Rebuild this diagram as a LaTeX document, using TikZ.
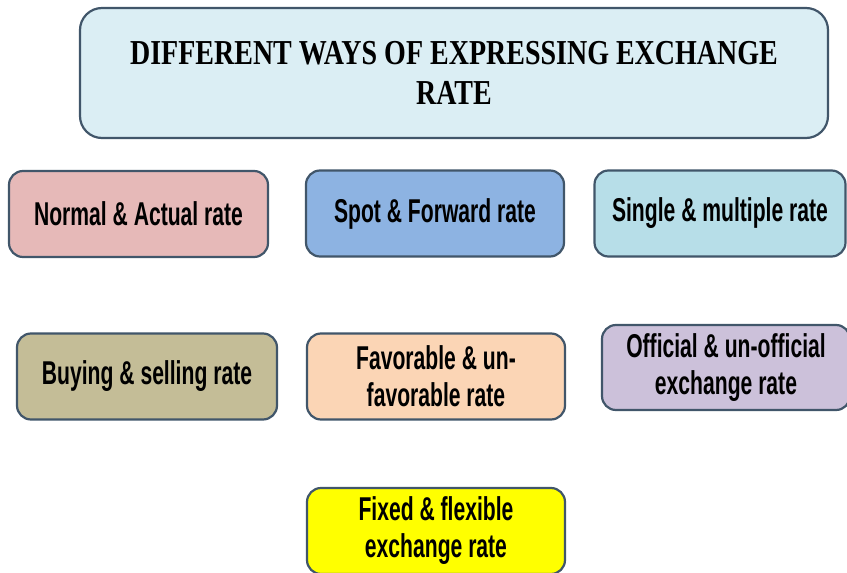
\documentclass[tikz,border=0pt]{standalone}
\usepackage{fontspec}
\setmainfont{Liberation Sans}
\newfontfamily\boxfont[FakeStretch=0.64]{Liberation Sans}
\newfontfamily\titlefont[FakeStretch=0.8]{Liberation Serif}
\usetikzlibrary{positioning}

\definecolor{edgeblue}{HTML}{41566A}
\definecolor{titlefill}{HTML}{DBEEF4}
\definecolor{normalfill}{HTML}{E6B9B8}
\definecolor{spotfill}{HTML}{8DB3E2}
\definecolor{singlefill}{HTML}{B7DEE8}
\definecolor{buyfill}{HTML}{C4BD97}
\definecolor{favfill}{HTML}{FBD5B5}
\definecolor{officialfill}{HTML}{CCC1DA}
\definecolor{fixedfill}{HTML}{FFFF00}

\tikzset{
  ratebox/.style={draw=edgeblue, line width=2.2pt, rounded corners=14pt,
    minimum width=258pt, minimum height=86pt, align=center,
    font=\boxfont\bfseries\fontsize{33}{37}\selectfont, inner sep=0pt},
  titlebox/.style={draw=edgeblue, line width=2.2pt, rounded corners=22pt,
    minimum width=748pt, minimum height=130pt, align=center, fill=titlefill,
    font=\titlefont\bfseries\fontsize{35}{40}\selectfont, inner sep=0pt}
}

\begin{document}
\begin{tikzpicture}[x=1pt, y=1pt]
\useasboundingbox (0,0) rectangle (847,-573);

\node[titlebox] (title) at (454,-73) {DIFFERENT WAYS OF EXPRESSING EXCHANGE\\RATE};

\node[ratebox, fill=normalfill, minimum width=259pt] (normal) at (138.5,-214) {Normal \& Actual rate};
\node[ratebox, fill=spotfill] (spot) at (435,-213.5) {Spot \& Forward rate};
\node[ratebox, fill=singlefill, minimum width=251pt] (single) at (720,-213.5) {Single \& multiple rate};

\node[ratebox, fill=buyfill, minimum width=260pt] (buying) at (147,-376.5) {Buying \& selling rate};
\node[ratebox, fill=favfill] (favorable) at (436,-376.5) {Favorable \& un-\\favorable rate};
\node[ratebox, fill=officialfill, minimum width=248pt, minimum height=85pt] (official) at (726,-367.5) {Official \& un-official\\exchange rate};

\node[ratebox, fill=fixedfill] (fixed) at (436,-531) {Fixed \& flexible\\exchange rate};
\end{tikzpicture}
\end{document}
